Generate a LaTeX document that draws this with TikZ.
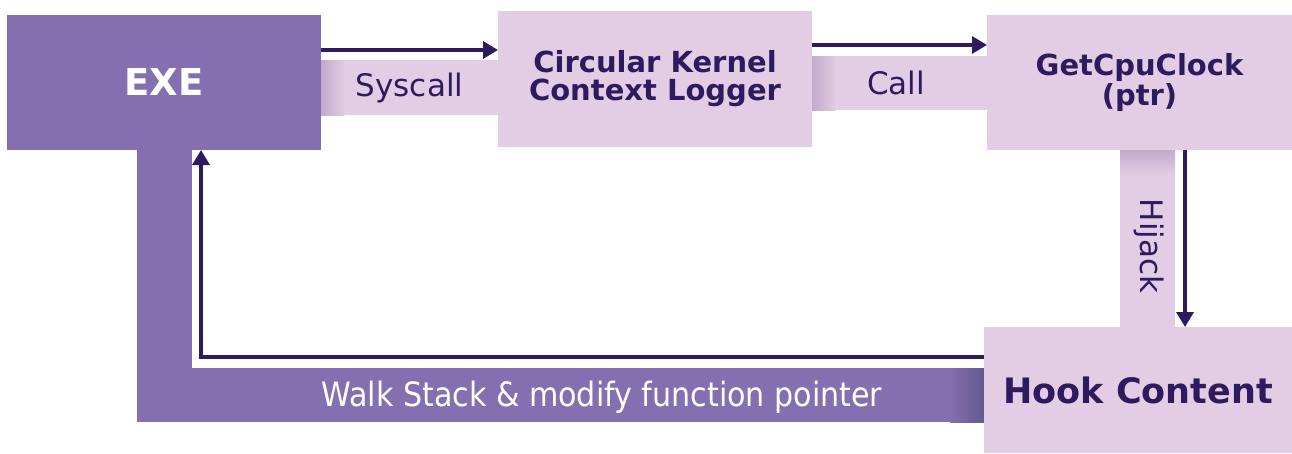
\documentclass[tikz,border=0pt]{standalone}
\usepackage{fontspec}
\setmainfont{DejaVu Sans}
\newfontfamily\condfont{DejaVu Sans Condensed}
\usetikzlibrary{arrows.meta,calc}

\definecolor{exepurple}{HTML}{8470B0}
\definecolor{lilac}{HTML}{E2CDE4}
\definecolor{lilacshade}{HTML}{C2AACA}
\definecolor{purpleshade}{HTML}{645890}
\definecolor{ink}{HTML}{2E1B5F}

\tikzset{
  box/.style={rectangle, inner sep=0pt, outer sep=0pt, align=center},
  lightbox/.style={box, fill=lilac, text=ink},
  flowarrow/.style={draw=ink, line width=3.4pt,
    -{Triangle[width=17pt,length=15pt]}},
  bandlabel/.style={inner sep=0pt, text=ink, font=\fontsize{31}{31}\selectfont},
  titlefont/.style={font=\bfseries\fontsize{29}{28}\selectfont}
}

\begin{document}
\begin{tikzpicture}[x=1pt,y=-1pt]
\useasboundingbox (0,0) rectangle (1292,453);

% connecting bands behind the boxes
\fill[exepurple] (137,140) rectangle (192,422);
\fill[exepurple] (137,368) rectangle (984,422);
\shade[left color=exepurple, right color=purpleshade] (950,368) rectangle (984,422);

\fill[lilac] (321,60) rectangle (498,115);
\shade[left color=lilacshade, right color=lilac] (321,60) rectangle (345,115);

\fill[lilac] (812,56) rectangle (987,110);
\shade[left color=lilacshade, right color=lilac] (812,56) rectangle (836,110);

\fill[lilac] (1120,150) rectangle (1175,327);
\shade[top color=lilacshade, bottom color=lilac] (1120,150) rectangle (1175,175);

% main boxes
\node[box, fill=exepurple, text=white, minimum width=314pt, minimum height=135pt,
      font=\bfseries\fontsize{37}{37}\selectfont] (exe) at (164,82.5) {EXE};
\node[lightbox, titlefont, minimum width=314pt, minimum height=136pt]
      (ckcl) at (655,79) {Circular Kernel\\Context Logger};
\node[lightbox, titlefont, minimum width=305pt, minimum height=135pt]
      (clock) at (1139.5,82.5) {GetCpuClock\\(ptr)};
\node[lightbox, minimum width=308pt, minimum height=126pt,
      font=\bfseries\fontsize{35}{35}\selectfont]
      (hook) at (1138,390) {Hook Content};

% band labels
\node[bandlabel] (syscall) at (409.5,88) {Syscall};
\node[bandlabel] (call) at (896,83) {Call};
\node[bandlabel, rotate=-90] (hijack) at (1149,246) {Hijack};
\node[bandlabel, text=white, font=\condfont\fontsize{33.5}{33.5}\selectfont]
      (walk) at (602,397) {Walk Stack \& modify function pointer};

% control-flow arrows
\draw[flowarrow] ([yshift=-35pt]exe.north east) -- ([yshift=-35pt]exe.north east -| ckcl.west);
\draw[flowarrow] ([yshift=-34pt]ckcl.north east) -- ([yshift=-34pt]ckcl.north east -| clock.west);
\coordinate (hijackline) at (1185,0);
\draw[flowarrow] (hijackline |- clock.south) -- (hijackline |- hook.north);
\coordinate (retcorner) at (201,357);
\draw[flowarrow] (hook.west |- retcorner) -- (retcorner) -- (retcorner |- exe.south);
\end{tikzpicture}
\end{document}
